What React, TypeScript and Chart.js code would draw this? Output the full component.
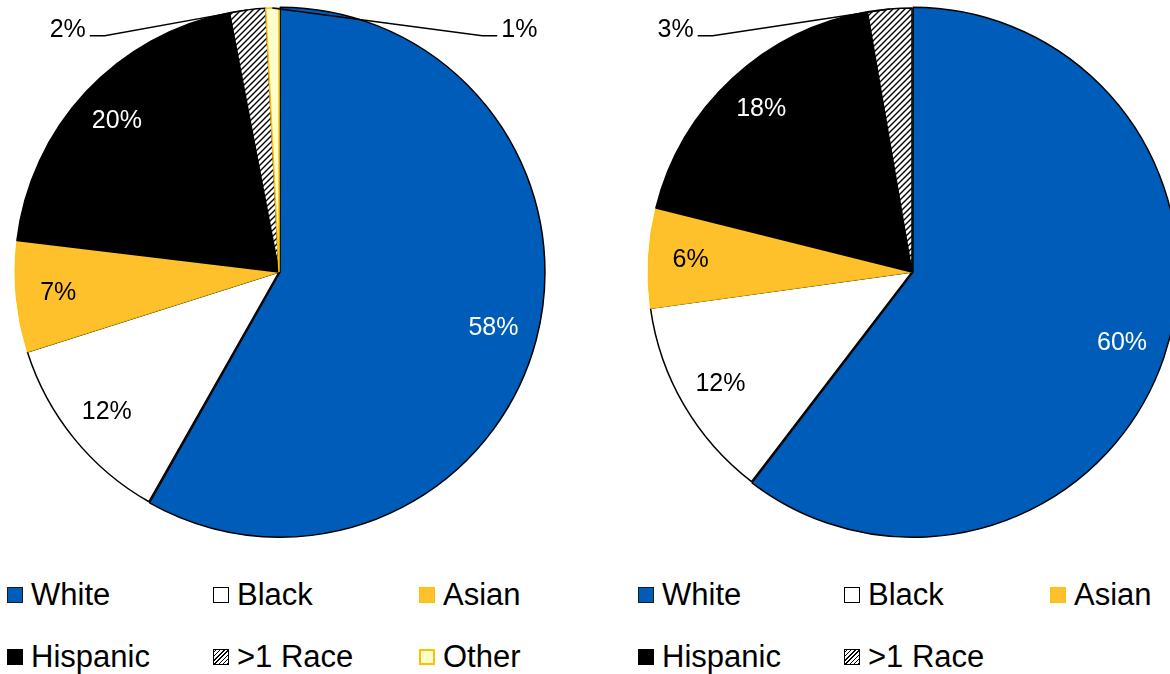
import React, { useEffect, useRef } from "react";
import { Chart, registerables } from "chart.js";
Chart.register(...registerables);

// ---- data ----
const leftCategories = ["White", "Black", "Asian", "Hispanic", ">1 Race", "Other"];
const leftValues = [58.2, 11.9, 6.8, 20.1, 2.2, 0.8];
const rightCategories = ["White", "Black", "Asian", "Hispanic", ">1 Race"];
const rightValues = [60.4, 12.4, 6.1, 18.4, 2.7];

// ---- styles ----
const FONT = '"Liberation Sans", Arial, Helvetica, sans-serif';
const BLUE = "#005CB9";
const GOLD = "#FFC12B";
const GOLD_BORDER = "#FFC000";
const PALE = "#FFFFCC";

function makeHatch(): CanvasPattern | string {
  const c = document.createElement("canvas");
  c.width = 6;
  c.height = 6;
  const g = c.getContext("2d");
  if (!g) return "#888";
  g.fillStyle = "#fff";
  g.fillRect(0, 0, 6, 6);
  g.strokeStyle = "#000";
  g.lineWidth = 1.4;
  g.beginPath();
  g.moveTo(0, 6);
  g.lineTo(6, 0);
  g.moveTo(-3, 3);
  g.lineTo(3, -3);
  g.moveTo(3, 9);
  g.lineTo(9, 3);
  g.stroke();
  const p = g.createPattern(c, "repeat");
  return p || "#888";
}

const labelPlugin = {
  id: "sliceLabels",
  afterDatasetsDraw(chart: any, _args: any, opts: any) {
    const ctx = chart.ctx as CanvasRenderingContext2D;
    const meta = chart.getDatasetMeta(0);
    const data = chart.data.datasets[0].data as number[];
    const total = data.reduce((a, b) => a + b, 0);
    ctx.save();
    ctx.font = `${opts.fontSize}px ${FONT}`;
    meta.data.forEach((arc: any, i: number) => {
      const { x, y, startAngle, endAngle, outerRadius } = arc.getProps(
        ["x", "y", "startAngle", "endAngle", "outerRadius"],
        true
      );
      const mid = (startAngle + endAngle) / 2;
      const pct = (data[i] / total) * 100;
      const text = Math.round(pct) + "%";
      if (pct >= 4) {
        const rr = outerRadius * opts.inside;
        ctx.fillStyle = opts.textColors[i];
        ctx.textAlign = "center";
        ctx.textBaseline = "middle";
        ctx.fillText(text, x + Math.cos(mid) * rr, y + Math.sin(mid) * rr);
      } else {
        const sx = x + Math.cos(mid) * outerRadius;
        const sy = y + Math.sin(mid) * outerRadius;
        const ex = x + opts.calloutX[i] * outerRadius;
        const ey = y + opts.calloutY * outerRadius;
        const dir = opts.calloutX[i] < 0 ? -1 : 1;
        const hx = ex + dir * 15;
        ctx.strokeStyle = "#000";
        ctx.lineWidth = 1.5;
        ctx.beginPath();
        ctx.moveTo(sx, sy);
        ctx.lineTo(ex, ey);
        ctx.lineTo(hx, ey);
        ctx.stroke();
        ctx.fillStyle = "#000";
        ctx.textAlign = dir < 0 ? "right" : "left";
        ctx.textBaseline = "middle";
        ctx.fillText(text, hx + dir * 4, ey - 6);
      }
    });
    ctx.restore();
  },
};

type PieProps = {
  left: number;
  labels: string[];
  values: number[];
  calloutX: number[];
};

function Pie({ left, labels, values, calloutX }: PieProps) {
  const ref = useRef<HTMLCanvasElement | null>(null);
  useEffect(() => {
    if (!ref.current) return;
    const hatch = makeHatch();
    const fills = [BLUE, "#FFFFFF", GOLD, "#000000", hatch, PALE].slice(0, values.length);
    const borders = ["#000", "#000", GOLD_BORDER, "#000", "#000", GOLD_BORDER].slice(0, values.length);
    const widths = [1.5, 1.5, 1, 1.5, 1.5, 1.5].slice(0, values.length);
    const offsets = values.map((_, i) => (i === 0 ? 4 : 0));
    const chart = new Chart(ref.current, {
      type: "pie",
      data: {
        labels,
        datasets: [
          {
            data: values,
            backgroundColor: fills as any,
            borderColor: borders,
            borderWidth: widths,
            offset: offsets,
            radius: 264,
          } as any,
        ],
      },
      options: {
        animation: false,
        responsive: false,
        events: [],
        layout: { padding: 0 },
        plugins: {
          legend: { display: false },
          tooltip: { enabled: false },
          sliceLabels: {
            fontSize: 25,
            inside: 0.84,
            textColors: ["#fff", "#000", "#000", "#fff", "#000", "#000"],
            calloutX,
            calloutY: -0.895,
          },
        } as any,
      },
      plugins: [labelPlugin],
    });
    return () => chart.destroy();
  }, []);
  return (
    <canvas
      ref={ref}
      width={560}
      height={544}
      style={{ position: "absolute", left, top: 0, width: 560, height: 544 }}
    />
  );
}

const swatches: React.CSSProperties[] = [
  { background: BLUE, border: "1px solid #1a1a1a" },
  { background: "#fff", border: "1px solid #000" },
  { background: GOLD, border: `1px solid ${GOLD_BORDER}` },
  { background: "#000", border: "1px solid #000" },
  {
    background: "repeating-linear-gradient(-45deg, #000 0 1px, #fff 1px 3px)",
    border: "1px solid #000",
  },
  { background: PALE, border: `2px solid ${GOLD_BORDER}` },
];

function Legend({ left, labels }: { left: number; labels: string[] }) {
  return (
    <>
      {labels.map((lab, i) => {
        const col = i % 3;
        const row = Math.floor(i / 3);
        const x = left + col * 206;
        const cy = 595 + row * 62;
        return (
          <div
            key={lab}
            style={{
              position: "absolute",
              left: x,
              top: cy - 18,
              height: 36,
              display: "flex",
              alignItems: "center",
              fontFamily: FONT,
              fontSize: 31,
              color: "#000",
              whiteSpace: "nowrap",
            }}
          >
            <span
              style={{
                display: "inline-block",
                width: 16,
                height: 16,
                boxSizing: "border-box",
                marginRight: 8,
                ...swatches[i],
              }}
            />
            <span>{lab}</span>
          </div>
        );
      })}
    </>
  );
}

export default function App() {
  return (
    <div
      style={{
        position: "fixed",
        left: 0,
        top: 0,
        width: 1170,
        height: 674,
        overflow: "hidden",
        background: "#fff",
      }}
    >
      <Pie left={-1} labels={leftCategories} values={leftValues} calloutX={[0, 0, 0, 0, -0.66, 0.77]} />
      <Pie left={632} labels={rightCategories} values={rightValues} calloutX={[0, 0, 0, 0, -0.755]} />
      <Legend left={7} labels={leftCategories} />
      <Legend left={638} labels={rightCategories} />
    </div>
  );
}
